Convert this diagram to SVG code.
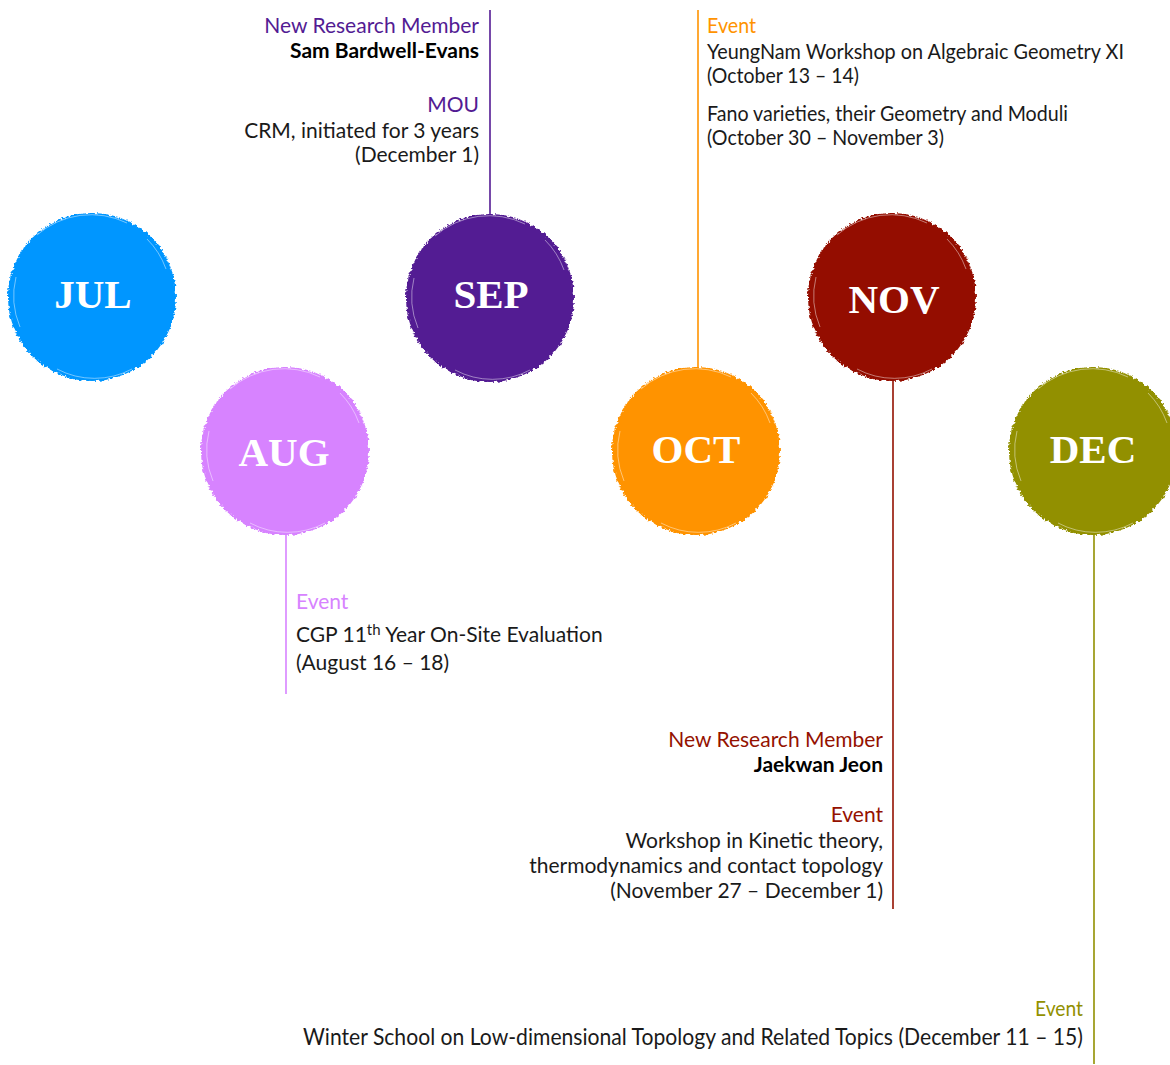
<svg xmlns="http://www.w3.org/2000/svg" width="1170" height="1065" viewBox="0 0 1170 1065">
  <style>
    .month { font-family: "Liberation Serif", "DejaVu Serif", serif; font-weight: bold; font-size: 41px; fill: #ffffff; text-anchor: middle; }
    .body { font-family: Lato, "Liberation Sans", sans-serif; font-size: 21px; fill: #1a1a1a; }
    .bold { font-weight: bold; }
    .end { text-anchor: end; }
    .link { stroke-width: 1.6; fill: none; }
    .streak { fill: none; stroke: #ffffff; stroke-opacity: 0.45; stroke-width: 1; }
  </style>
  <defs>
    <filter id="brush" x="-10%" y="-10%" width="120%" height="120%">
      <feTurbulence type="fractalNoise" baseFrequency="0.35" numOctaves="2" seed="4" result="noise"/>
      <feDisplacementMap in="SourceGraphic" in2="noise" scale="5" xChannelSelector="R" yChannelSelector="G"/>
    </filter>
    <g id="disc">
      <circle r="84" filter="url(#brush)"/>
      <path class="streak" d="M -55 -62 A 82 82 0 0 1 35 -74"/>
      <path class="streak" d="M 55 -58 A 80 80 0 0 1 74 -28"/>
      <path class="streak" d="M -76 -20 A 80 80 0 0 0 -72 30"/>
      <path class="streak" d="M -35 72 A 80 80 0 0 0 40 72"/>
    </g>
  </defs>

  <!-- connectors from each month to its notes -->
  <g id="connectors">
    <line class="link" x1="490" y1="10" x2="490" y2="214" stroke="#531B93"/>
    <line class="link" x1="698" y1="10" x2="698" y2="368" stroke="#FF9300"/>
    <line class="link" x1="286" y1="532" x2="286" y2="694" stroke="#D783FF"/>
    <line class="link" x1="893" y1="378" x2="893" y2="909" stroke="#941100"/>
    <line class="link" x1="1094" y1="532" x2="1094" y2="1064" stroke="#929000"/>
  </g>

  <!-- month discs -->
  <g id="jul">
    <use href="#disc" x="92" y="297" fill="#0096FF"/>
    <text class="month" x="93" y="308">JUL</text>
  </g>
  <g id="aug">
    <use href="#disc" x="285" y="451" fill="#D783FF"/>
    <text class="month" x="284" y="466">AUG</text>
  </g>
  <g id="sep">
    <use href="#disc" x="490" y="298" fill="#531B93"/>
    <text class="month" x="491" y="308">SEP</text>
  </g>
  <g id="oct">
    <use href="#disc" x="696" y="451" fill="#FF9300"/>
    <text class="month" x="696" y="463">OCT</text>
  </g>
  <g id="nov">
    <use href="#disc" x="892" y="297" fill="#941100"/>
    <text class="month" x="894" y="313">NOV</text>
  </g>
  <g id="dec">
    <use href="#disc" x="1093" y="451" fill="#929000"/>
    <text class="month" x="1093" y="463">DEC</text>
  </g>

  <!-- September notes -->
  <g id="sep-notes" class="body end">
    <text x="479" y="33" fill="#531B93">New Research Member</text>
    <text x="479" y="58" class="bold" fill="#000000">Sam Bardwell-Evans</text>
    <text x="479" y="112" fill="#531B93">MOU</text>
    <text x="479" y="138">CRM, initiated for 3 years</text>
    <text x="479" y="162">(December 1)</text>
  </g>

  <!-- October notes (narrower setting) -->
  <g id="oct-notes" class="body">
    <text x="707" y="33" fill="#FF9300" textLength="49" lengthAdjust="spacingAndGlyphs">Event</text>
    <text x="707" y="59" textLength="417" lengthAdjust="spacingAndGlyphs">YeungNam Workshop on Algebraic Geometry XI</text>
    <text x="707" y="83" textLength="152" lengthAdjust="spacingAndGlyphs">(October 13 – 14)</text>
    <text x="707" y="121" textLength="361" lengthAdjust="spacingAndGlyphs">Fano varieties, their Geometry and Moduli</text>
    <text x="707" y="145" textLength="237" lengthAdjust="spacingAndGlyphs">(October 30 – November 3)</text>
  </g>

  <!-- August notes -->
  <g id="aug-notes" class="body">
    <text x="296" y="609" fill="#D783FF">Event</text>
    <text x="296" y="642">CGP 11<tspan dy="-7" font-size="15">th</tspan><tspan dy="7"> Year On-Site Evaluation</tspan></text>
    <text x="296" y="670">(August 16 – 18)</text>
  </g>

  <!-- November notes -->
  <g id="nov-notes" class="body end">
    <text x="883" y="747" fill="#941100">New Research Member</text>
    <text x="883" y="772" class="bold" fill="#000000">Jaekwan Jeon</text>
    <text x="883" y="822" fill="#941100">Event</text>
    <text x="883" y="848">Workshop in Kinetic theory,</text>
    <text x="883" y="873">thermodynamics and contact topology</text>
    <text x="883" y="898">(November 27 – December 1)</text>
  </g>

  <!-- December notes (condensed setting) -->
  <g id="dec-notes" class="body end">
    <text x="1083" y="1016" fill="#929000" font-size="22" textLength="48" lengthAdjust="spacingAndGlyphs">Event</text>
    <text x="1083" y="1045" font-size="22.5" textLength="780" lengthAdjust="spacingAndGlyphs">Winter School on Low-dimensional Topology and Related Topics (December 11 – 15)</text>
  </g>
</svg>
